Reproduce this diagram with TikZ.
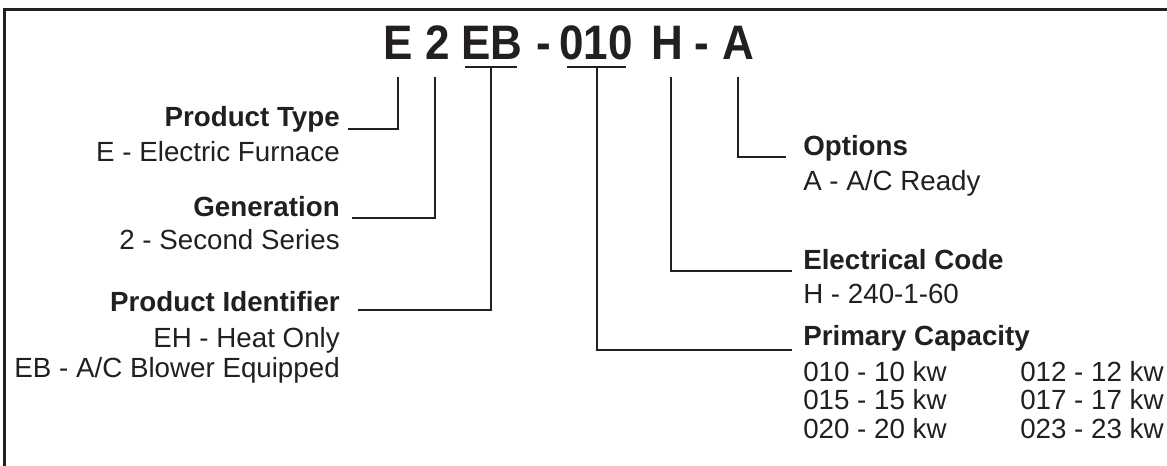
\documentclass[tikz,border=0pt]{standalone}
\usepackage{fontspec}
\setmainfont{Liberation Sans}
\definecolor{ink}{HTML}{231F20}
\begin{document}
\begin{tikzpicture}[x=0.75pt,y=-0.75pt,
  lbl/.style={font=\fontsize{20.8}{25}\selectfont\bfseries, text=ink, inner sep=0pt},
  desc/.style={font=\fontsize{20.8}{25}\selectfont, text=ink, inner sep=0pt},
  codechar/.style={font=\fontsize{33}{40}\selectfont\bfseries, text=ink, inner sep=0pt, anchor=base, yscale=1.1},
  conn/.style={draw=ink, line width=0.9pt},
  frameline/.style={draw=ink, line width=2.3pt, line join=miter}]
\useasboundingbox (0,0) rectangle (1167,466);
% frame
\coordinate (fBL) at (4.5,466);
\coordinate (fTL) at (4.5,9.5);
\coordinate (fTR) at (1167,9.5);
\draw[frameline] (fBL) -- (fTL) -- (fTR);
% code characters
\node[codechar] (cE)  at (398,60) {E};
\node[codechar] (c2)  at (438,60) {2};
\node[codechar] (cEB) at (492,60) {EB};
\node[codechar] (cD1) at (544,60) {-};
\node[codechar] (c010) at (596,60) {010};
\node[codechar] (cH)  at (667,60) {H};
\node[codechar] (cD2) at (702,60) {-};
\node[codechar] (cA)  at (738,60) {A};
% left labels
\node[lbl, anchor=base east]  (ptype) at (340,127) {Product Type};
\node[desc, anchor=base east] (ptypeD) at (340,162) {E - Electric Furnace};
\node[lbl, anchor=base east]  (gen) at (340,217) {Generation};
\node[desc, anchor=base east] (genD) at (340,250) {2 - Second Series};
\node[lbl, anchor=base east]  (pid) at (340,312) {Product Identifier};
\node[desc, anchor=base east] (pidD1) at (340,348) {EH - Heat Only};
\node[desc, anchor=base east] (pidD2) at (340,378) {EB - A/C Blower Equipped};
% right labels
\node[lbl, anchor=base west]  (opt) at (803,156) {Options};
\node[desc, anchor=base west] (optD) at (803,191) {A - A/C Ready};
\node[lbl, anchor=base west]  (elec) at (803,270) {Electrical Code};
\node[desc, anchor=base west] (elecD) at (803,304) {H - 240-1-60};
\node[lbl, anchor=base west]  (cap) at (803,346) {Primary Capacity};
\node[desc, anchor=base west] (cap1) at (803,382) {010 - 10 kw};
\node[desc, anchor=base west] (cap2) at (803,410) {015 - 15 kw};
\node[desc, anchor=base west] (cap3) at (803,438) {020 - 20 kw};
\node[desc, anchor=base west] (cap4) at (1020,382) {012 - 12 kw};
\node[desc, anchor=base west] (cap5) at (1020,410) {017 - 17 kw};
\node[desc, anchor=base west] (cap6) at (1020,438) {023 - 23 kw};
% connector coordinates
\coordinate (tE) at (398,77);
\coordinate (ePT) at (348,129);
\coordinate (t2) at (435,77);
\coordinate (eGen) at (352,218);
\coordinate (uEBl) at (465,67);
\coordinate (uEBr) at (517,67);
\coordinate (tEB) at (491,67);
\coordinate (ePid) at (358,310);
\coordinate (u010l) at (567,67);
\coordinate (u010r) at (626,67);
\coordinate (t010) at (597,67);
\coordinate (eCap) at (792,350);
\coordinate (tH) at (671,77);
\coordinate (eElec) at (792,271);
\coordinate (tA) at (738,77);
\coordinate (eOpt) at (786,157);
% connectors
\draw[conn] (tE) |- (ePT);
\draw[conn] (t2) |- (eGen);
\draw[conn] (uEBl) -- (uEBr);
\draw[conn] (tEB) |- (ePid);
\draw[conn] (u010l) -- (u010r);
\draw[conn] (t010) |- (eCap);
\draw[conn] (tH) |- (eElec);
\draw[conn] (tA) |- (eOpt);
\end{tikzpicture}
\end{document}
